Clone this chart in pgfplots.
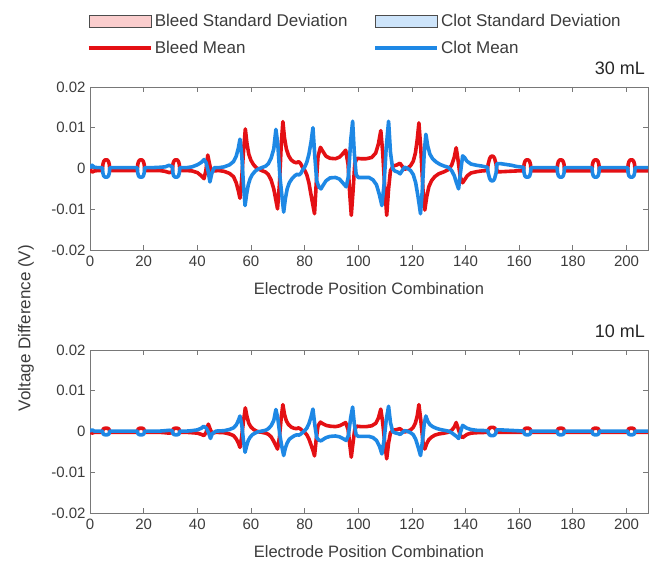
\documentclass[border=0pt]{standalone}
\usepackage{pgfplots}
\pgfplotsset{compat=1.18}
\usepackage{fontspec}
\setmainfont{Liberation Sans}
\definecolor{bleed}{RGB}{228,16,20}
\definecolor{clot}{RGB}{30,136,229}
\definecolor{sdred}{RGB}{250,205,205}
\definecolor{sdblue}{RGB}{205,228,250}
\definecolor{axgray}{RGB}{120,120,120}
\definecolor{txtgray}{RGB}{60,60,60}
\pgfplotsset{
  myax/.style={
    scale only axis, width=558bp, height=163bp,
    xmin=0, xmax=208, ymin=-0.02, ymax=0.02,
    xtick={0,20,40,60,80,100,120,140,160,180,200},
    xticklabels={0,20,40,60,80,100,120,140,160,180,200},
    ytick={-0.02,-0.01,0,0.01,0.02},
    yticklabels={-0.02,-0.01,0,0.01,0.02},
    scaled y ticks=false, scaled x ticks=false,
    tick align=inside, major tick length=5bp,
    axis line style={axgray, line width=0.8bp},
    tick style={axgray, line width=0.8bp},
    tick label style={font=\fontsize{15bp}{18bp}\selectfont, text=txtgray},
    xticklabel style={yshift=-3bp},
    yticklabel style={xshift=-1bp},
    xlabel={Electrode Position Combination},
    xlabel style={at={(axis description cs:0.5,0)}, anchor=center, yshift=-39bp,
      font=\fontsize{16.5bp}{19bp}\selectfont, text=txtgray},
    title style={at={(axis description cs:1,1)}, anchor=base east, yshift=7bp, xshift=-3bp,
      inner sep=0pt, font=\fontsize{18bp}{21bp}\selectfont, text=black!85},
    clip=true,
  },
  bl/.style={bleed, line width=3.6bp, line join=round, line cap=round, forget plot},
  cl/.style={clot, line width=3.6bp, line join=round, line cap=round, forget plot},
}
\begin{document}
\begin{tikzpicture}
\useasboundingbox (-90bp,-311bp) rectangle (559bp,250bp);
\begin{axis}[myax, title={30 mL},
  legend columns=2,
  legend cell align=left,
  legend style={at={(axis description cs:0,1)}, anchor=south west, xshift=-6bp, yshift=28bp,
    draw=none, fill=none, font=\fontsize{17bp}{20bp}\selectfont, text=txtgray,
    /tikz/every even column/.append style={column sep=24bp}, row sep=9bp}]
\addlegendimage{legend image code/.code={\draw[fill=sdred, draw=black!70, line width=0.8bp] (0bp,-6bp) rectangle (62bp,6bp);}}
\addlegendentry{Bleed Standard Deviation}
\addlegendimage{legend image code/.code={\draw[fill=sdblue, draw=black!70, line width=0.8bp] (0bp,-6bp) rectangle (62bp,6bp);}}
\addlegendentry{Clot Standard Deviation}
\addlegendimage{legend image code/.code={\draw[bleed, line width=3.6bp] (0bp,0bp) -- (62bp,0bp);}}
\addlegendentry{Bleed Mean}
\addlegendimage{legend image code/.code={\draw[clot, line width=3.6bp] (0bp,0bp) -- (62bp,0bp);}}
\addlegendentry{Clot Mean}
% Bleed mean, 30 mL
\addplot[bl] coordinates {
(0,-0.0002)(0.8,-0.0009)(1.6,-0.0006)(3,-0.0005)
(4.6,-0.0005)(4.8,0.001)(5.1,0.0017)(5.55,0.0021)(6.45,0.0021)(6.9,0.0017)(7.2,0.001)(7.4,-0.0005)
(10,-0.0005)(13,-0.0005)
(17.6,-0.0005)(17.8,0.001)(18.1,0.0017)(18.55,0.0021)(19.45,0.0021)(19.9,0.0017)(20.2,0.001)(20.4,-0.0005)
(23,-0.0005)(26,-0.0005)(28,-0.0007)(29.5,-0.001)
(30.7,-0.0009)(30.9,0.001)(31.2,0.0017)(31.65,0.0021)(32.55,0.0021)(33,0.0017)(33.3,0.001)(33.5,-0.0005)
(36,-0.0005)(38,-0.0006)(40,-0.001)(41.5,-0.0018)(42.5,-0.0025)(43.2,-0.0005)(43.9,0.0033)(44.6,0.001)(45.2,-0.0008)(46,-0.0006)(48,-0.0005)
(50,-0.0007)(52,-0.0012)(53.5,-0.002)(54.5,-0.0035)(55.3,-0.0055)(55.9,-0.0073)(56.5,-0.003)(57.2,0.004)(57.9,0.0097)(58.5,0.0062)(59.2,0.0035)(60,0.002)(61,0.0009)(62,0.0002)(63,-0.0002)(64,-0.0005)
(65.5,-0.0009)(66.5,-0.0015)(67.5,-0.0028)(68.5,-0.005)(69.3,-0.0078)(69.9,-0.0099)(70.6,-0.004)(71.3,0.006)(71.9,0.0115)(72.5,0.0075)(73.2,0.0048)(74,0.0032)(75,0.0021)(76,0.0016)(77,0.0014)(77.8,0.0017)(78.5,0.0012)(79.3,0.0002)(80,-0.0004)
(80.8,-0.0015)(81.6,-0.0035)(82.4,-0.0065)(83.1,-0.009)(83.7,-0.0111)(84.3,-0.004)(85,0.003)(85.9,0.0052)(86.8,0.0042)(88,0.003)(89.5,0.0025)(91.5,0.0024)(93,0.0028)(94.2,0.0036)(95.3,0.0045)
(96.2,0.001)(96.8,-0.006)(97.4,-0.0115)(98,-0.006)(98.7,0.0012)(99.5,0.0025)(101,0.0024)(103,0.0024)(105,0.0027)(106.5,0.0038)(107.5,0.006)(108.4,0.0093)
(109.1,0.004)(109.9,-0.005)(110.6,-0.0115)(111.3,-0.005)(112,-0.0005)(113,0.0006)(114.5,0.0009)(115.5,0.0013)(116.3,0.0006)(117.2,-0.0002)(118.2,0)
(119.5,0.0007)(120.5,0.0018)(121.3,0.0038)(122,0.0072)(122.6,0.0112)(123.3,0.005)(124.1,-0.005)(124.8,-0.0102)(125.5,-0.007)(126.3,-0.0045)(127.3,-0.003)(128.5,-0.002)(130,-0.0013)(132,-0.0008)(133.5,-0.0003)
(134.8,0.0008)(135.8,0.0028)(136.5,0.0051)(137.2,0.002)(138,-0.002)(138.9,-0.0035)(139.7,-0.0027)(140.6,-0.0018)(142,-0.0011)(144,-0.0008)(146,-0.0006)(148.1,-0.0005)
(148.4,0.001)(149,0.0025)(149.5,0.003)(150.3,0.003)(150.8,0.0025)(151.4,0.001)(151.7,-0.0008)
(153,-0.0008)(156,-0.0007)(159,-0.0006)(161.6,-0.0006)
(161.8,0.001)(162.1,0.0017)(162.55,0.0021)(163.45,0.0021)(163.9,0.0017)(164.2,0.001)(164.4,-0.0006)
(167,-0.0006)(170,-0.0006)(174.1,-0.0006)
(174.3,0.001)(174.6,0.0017)(175.05,0.0021)(175.95,0.0021)(176.4,0.0017)(176.7,0.001)(176.9,-0.0006)
(180,-0.0006)(183,-0.0006)(187.1,-0.0006)
(187.3,0.001)(187.6,0.0017)(188.05,0.0021)(188.95,0.0021)(189.4,0.0017)(189.7,0.001)(189.9,-0.0006)
(193,-0.0006)(196,-0.0006)(200.4,-0.0006)
(200.6,0.001)(200.9,0.0017)(201.35,0.0021)(202.25,0.0021)(202.7,0.0017)(203,0.001)(203.2,-0.0006)
(206,-0.0006)(208,-0.0006)
};
% Clot mean, 30 mL
\addplot[cl] coordinates {
(0,0.0002)(0.8,0.0008)(1.6,0.0003)(3,0.0002)
(4.6,0.0002)(4.8,-0.0011)(5.1,-0.0018)(5.55,-0.0021)(6.45,-0.0021)(6.9,-0.0018)(7.2,-0.0011)(7.4,0.0002)
(10,0.0002)(13,0.0002)
(17.6,0.0002)(17.8,-0.0011)(18.1,-0.0018)(18.55,-0.0021)(19.45,-0.0021)(19.9,-0.0018)(20.2,-0.0011)(20.4,0.0002)
(23,0.0002)(26,0.0003)(28,0.0004)(29.5,0.0008)
(30.7,0.0004)(30.9,-0.0011)(31.2,-0.0018)(31.65,-0.0021)(32.55,-0.0021)(33,-0.0018)(33.3,-0.0011)(33.5,0.0002)
(36,0.0002)(38,0.0004)(40,0.0009)(41.5,0.0015)(42.5,0.0022)(43.3,0.0014)(44,-0.0005)(44.7,-0.0033)(45.4,-0.0012)(46.3,0.0002)(48,0.0002)
(50,0.0004)(52,0.0009)(53.5,0.0017)(54.5,0.003)(55.3,0.005)(55.9,0.0072)(56.6,0.003)(57.2,-0.004)(57.8,-0.0091)(58.4,-0.0062)(59,-0.004)(59.7,-0.0025)(60.5,-0.0015)(61.5,-0.0007)(62.5,-0.0002)(64,0.0002)
(65.5,0.0006)(66.5,0.0012)(67.5,0.0025)(68.5,0.0048)(69.3,0.0096)(70,0.006)(70.8,-0.002)(71.5,-0.0065)(72.2,-0.0107)(72.8,-0.0075)(73.5,-0.005)(74.3,-0.0035)(75.3,-0.0025)(76.3,-0.0018)(77.2,-0.0014)(77.9,-0.0016)(78.6,-0.0012)(79.3,-0.0003)(80,0.0003)
(80.8,0.0015)(81.6,0.0035)(82.4,0.0065)(83.1,0.01)(83.8,0.003)(84.5,-0.003)(85.3,-0.0045)(86.1,-0.005)(87,-0.004)(88,-0.003)(89.5,-0.0023)(91.5,-0.0022)(93,-0.0026)(94.2,-0.0035)(95.5,-0.0045)
(96.3,-0.002)(97.2,0.007)(97.9,0.0116)(98.5,0.004)(99.2,-0.0015)(100,-0.0022)(102,-0.0022)(104,-0.0022)(105.5,-0.0028)(106.8,-0.004)(107.9,-0.0065)(108.8,-0.0091)
(109.6,-0.004)(110.4,0.005)(111.3,0.0116)(112,0.004)(112.8,0)(113.6,-0.0006)(114.8,-0.0009)(115.6,-0.0013)(116.4,-0.0005)(117.2,0.0003)(118.2,0.0001)
(119.5,-0.0005)(120.5,-0.0015)(121.4,-0.0035)(122.3,-0.007)(123.2,-0.0111)(123.9,-0.005)(124.6,0.004)(125.2,0.0084)(125.9,0.0055)(126.7,0.0035)(127.7,0.0024)(129,0.0016)(130.5,0.001)(132,0.0006)(133.5,0.0003)
(134.8,-0.0005)(135.8,-0.0018)(136.6,-0.0035)(137.4,-0.005)(138.1,-0.001)(138.9,0.0031)(139.6,0.0027)(140.5,0.0018)(142,0.0011)(144,0.0008)(146,0.0006)(148.1,0.0003)
(148.4,-0.001)(149,-0.0025)(149.5,-0.003)(150.3,-0.003)(150.8,-0.0025)(151.4,-0.001)(151.7,0.0012)
(153,0.0012)(155,0.001)(157,0.0008)(159,0.0005)(161.6,0.0003)
(161.8,-0.0011)(162.1,-0.0018)(162.55,-0.0021)(163.45,-0.0021)(163.9,-0.0018)(164.2,-0.0011)(164.4,0.0002)
(167,0.0002)(170,0.0002)(174.1,0.0002)
(174.3,-0.0011)(174.6,-0.0018)(175.05,-0.0021)(175.95,-0.0021)(176.4,-0.0018)(176.7,-0.0011)(176.9,0.0002)
(180,0.0002)(183,0.0002)(187.1,0.0002)
(187.3,-0.0011)(187.6,-0.0018)(188.05,-0.0021)(188.95,-0.0021)(189.4,-0.0018)(189.7,-0.0011)(189.9,0.0002)
(193,0.0002)(196,0.0002)(200.4,0.0002)
(200.6,-0.0011)(200.9,-0.0018)(201.35,-0.0021)(202.25,-0.0021)(202.7,-0.0018)(203,-0.0011)(203.2,0.0002)
(206,0.0002)(208,0.0002)
};
\end{axis}

\begin{axis}[myax, title={10 mL}, yshift=-263bp]
% Bleed mean, 10 mL
\addplot[bl] coordinates {
(0,-0.0001)(0.8,-0.0004)(1.6,-0.0002)(3,-0.0002)
(4.6,-0.0002)(4.8,0.0004)(5.1,0.0007)(5.55,0.0008)(6.45,0.0008)(6.9,0.0007)(7.2,0.0004)(7.4,-0.0002)
(10,-0.0002)(13,-0.0002)
(17.6,-0.0002)(17.8,0.0004)(18.1,0.0007)(18.55,0.0008)(19.45,0.0008)(19.9,0.0007)(20.2,0.0004)(20.4,-0.0002)
(23,-0.0002)(26,-0.0002)(28,-0.0003)(29.5,-0.0004)
(30.7,-0.0003)(30.9,0.0004)(31.2,0.0007)(31.65,0.0008)(32.55,0.0008)(33,0.0007)(33.3,0.0004)(33.5,-0.0002)
(36,-0.0002)(38,-0.0003)(40,-0.0004)(41.5,-0.0007)(42.5,-0.001)(43.3,-0.0002)(44.1,0.0018)(44.9,0.0004)(45.6,-0.0004)(47,-0.0002)
(50,-0.0003)(52,-0.0006)(53.5,-0.001)(54.5,-0.0018)(55.3,-0.0028)(55.9,-0.0039)(56.5,-0.0015)(57.2,0.0025)(57.9,0.0058)(58.5,0.0037)(59.2,0.002)(60,0.0011)(61,0.0005)(62,0.0001)(63,-0.0001)(64,-0.0002)
(65.5,-0.0004)(66.5,-0.0007)(67.5,-0.0013)(68.5,-0.0024)(69.3,-0.0035)(69.9,-0.0043)(70.6,-0.0015)(71.3,0.0035)(71.9,0.0066)(72.5,0.0042)(73.2,0.0026)(74,0.0017)(75,0.0011)(76,0.0008)(77,0.0007)(77.8,0.0009)(78.5,0.0006)(79.3,0.0001)(80,-0.0002)
(80.8,-0.0008)(81.6,-0.0018)(82.4,-0.0033)(83.1,-0.0046)(83.7,-0.006)(84.3,-0.002)(85,0.0014)(85.9,0.0023)(86.8,0.0019)(88,0.0015)(89.5,0.0013)(91.5,0.0012)(93,0.0014)(94.2,0.0018)(95.3,0.0022)
(96.2,0.0005)(96.8,-0.003)(97.4,-0.0063)(98,-0.003)(98.7,0.0006)(99.5,0.0013)(101,0.0012)(103,0.0012)(105,0.0014)(106.5,0.002)(107.5,0.0033)(108.4,0.0055)
(109.1,0.0022)(109.9,-0.003)(110.6,-0.0067)(111.3,-0.0028)(112,-0.0003)(113,0.0003)(114.5,0.0005)(115.5,0.0007)(116.3,0.0003)(117.2,-0.0001)(118.2,0)
(119.5,0.0004)(120.5,0.001)(121.3,0.0021)(122,0.0039)(122.6,0.0066)(123.3,0.0028)(124.1,-0.0025)(124.8,-0.0043)(125.5,-0.003)(126.3,-0.002)(127.3,-0.0014)(128.5,-0.0009)(130,-0.0006)(132,-0.0004)(133.5,-0.0002)
(134.8,0.0003)(135.8,0.0011)(136.5,0.0022)(137.2,0.0008)(138,-0.0009)(138.9,-0.0015)(139.7,-0.0011)(140.6,-0.0007)(142,-0.0004)(144,-0.0003)(148.3,-0.0002)
(148.5,0.0004)(148.9,0.0008)(149.4,0.001)(150.4,0.001)(150.9,0.0008)(151.3,0.0004)(151.5,-0.0002)
(153,-0.0002)(156,-0.0002)(159,-0.0002)(161.6,-0.0002)
(161.8,0.0004)(162.1,0.0007)(162.55,0.0008)(163.45,0.0008)(163.9,0.0007)(164.2,0.0004)(164.4,-0.0002)
(167,-0.0002)(170,-0.0002)(174.1,-0.0002)
(174.3,0.0004)(174.6,0.0007)(175.05,0.0008)(175.95,0.0008)(176.4,0.0007)(176.7,0.0004)(176.9,-0.0002)
(180,-0.0002)(183,-0.0002)(187.1,-0.0002)
(187.3,0.0004)(187.6,0.0007)(188.05,0.0008)(188.95,0.0008)(189.4,0.0007)(189.7,0.0004)(189.9,-0.0002)
(193,-0.0002)(196,-0.0002)(200.4,-0.0002)
(200.6,0.0004)(200.9,0.0007)(201.35,0.0008)(202.25,0.0008)(202.7,0.0007)(203,0.0004)(203.2,-0.0002)
(206,-0.0002)(208,-0.0002)
};
% Clot mean, 10 mL
\addplot[cl] coordinates {
(0,0.0001)(0.8,0.0004)(1.6,0.0001)(3,0.0001)
(4.6,0.0001)(4.8,-0.0004)(5.1,-0.0007)(5.55,-0.0008)(6.45,-0.0008)(6.9,-0.0007)(7.2,-0.0004)(7.4,0.0001)
(10,0.0001)(13,0.0001)
(17.6,0.0001)(17.8,-0.0004)(18.1,-0.0007)(18.55,-0.0008)(19.45,-0.0008)(19.9,-0.0007)(20.2,-0.0004)(20.4,0.0001)
(23,0.0001)(26,0.0001)(28,0.0002)(29.5,0.0003)
(30.7,0.0002)(30.9,-0.0004)(31.2,-0.0007)(31.65,-0.0008)(32.55,-0.0008)(33,-0.0007)(33.3,-0.0004)(33.5,0.0001)
(36,0.0001)(38,0.0002)(40,0.0004)(41.5,0.0008)(42.4,0.0013)(43.4,0.0008)(44.2,-0.0003)(44.9,-0.0017)(45.6,-0.0005)(47,0.0001)
(50,0.0002)(52,0.0005)(53.5,0.0009)(54.5,0.0016)(55.3,0.0027)(55.9,0.0038)(56.6,0.0015)(57.2,-0.0022)(57.8,-0.0051)(58.4,-0.0035)(59,-0.0022)(59.7,-0.0014)(60.5,-0.0008)(61.5,-0.0004)(62.5,-0.0001)(64,0.0001)
(65.5,0.0003)(66.5,0.0007)(67.5,0.0014)(68.5,0.0027)(69.3,0.0054)(70,0.0033)(70.8,-0.001)(71.5,-0.0037)(72.2,-0.0059)(72.8,-0.0041)(73.5,-0.0028)(74.3,-0.0019)(75.3,-0.0014)(76.3,-0.001)(77.2,-0.0008)(77.9,-0.0009)(78.6,-0.0006)(79.3,-0.0002)(80,0.0002)
(80.8,0.0008)(81.6,0.0019)(82.4,0.0036)(83.1,0.0055)(83.8,0.0016)(84.5,-0.0015)(85.3,-0.0021)(86.1,-0.0023)(87,-0.0019)(88,-0.0015)(89.5,-0.0012)(91.5,-0.0011)(93,-0.0013)(94.2,-0.0017)(95.5,-0.0022)
(96.3,-0.001)(97.2,0.0035)(97.9,0.006)(98.5,0.002)(99.2,-0.0008)(100,-0.0012)(102,-0.0012)(104,-0.0012)(105.5,-0.0015)(106.8,-0.0022)(107.9,-0.0036)(108.8,-0.0055)
(109.6,-0.0022)(110.4,0.0028)(111.3,0.0062)(112,0.0022)(112.8,0)(113.6,-0.0003)(114.8,-0.0005)(115.6,-0.0007)(116.4,-0.0003)(117.2,0.0002)(118.2,0.0001)
(119.5,-0.0003)(120.5,-0.0008)(121.4,-0.0019)(122.3,-0.0038)(123.2,-0.0059)(123.9,-0.0025)(124.6,0.002)(125.2,0.0038)(125.9,0.0025)(126.7,0.0017)(127.7,0.0012)(129,0.0008)(130.5,0.0005)(132,0.0003)(133.5,0.0001)
(134.8,-0.0003)(135.8,-0.0008)(136.6,-0.0012)(137.4,-0.0017)(138.1,-0.0002)(138.9,0.0015)(139.6,0.0012)(140.5,0.0008)(142,0.0005)(144,0.0003)(148.3,0.0002)
(148.5,-0.0004)(148.9,-0.0008)(149.4,-0.001)(150.4,-0.001)(150.9,-0.0008)(151.3,-0.0004)(151.5,0.0004)
(153,0.0004)(156,0.0003)(159,0.0002)(161.6,0.0001)
(161.8,-0.0004)(162.1,-0.0007)(162.55,-0.0008)(163.45,-0.0008)(163.9,-0.0007)(164.2,-0.0004)(164.4,0.0001)
(167,0.0001)(170,0.0001)(174.1,0.0001)
(174.3,-0.0004)(174.6,-0.0007)(175.05,-0.0008)(175.95,-0.0008)(176.4,-0.0007)(176.7,-0.0004)(176.9,0.0001)
(180,0.0001)(183,0.0001)(187.1,0.0001)
(187.3,-0.0004)(187.6,-0.0007)(188.05,-0.0008)(188.95,-0.0008)(189.4,-0.0007)(189.7,-0.0004)(189.9,0.0001)
(193,0.0001)(196,0.0001)(200.4,0.0001)
(200.6,-0.0004)(200.9,-0.0007)(201.35,-0.0008)(202.25,-0.0008)(202.7,-0.0007)(203,-0.0004)(203.2,0.0001)
(206,0.0001)(208,0.0001)
};
\end{axis}
\node[rotate=90, font=\fontsize{17bp}{20bp}\selectfont, text=txtgray] at (-64bp,-78bp) {Voltage Difference (V)};
\end{tikzpicture}
\end{document}
